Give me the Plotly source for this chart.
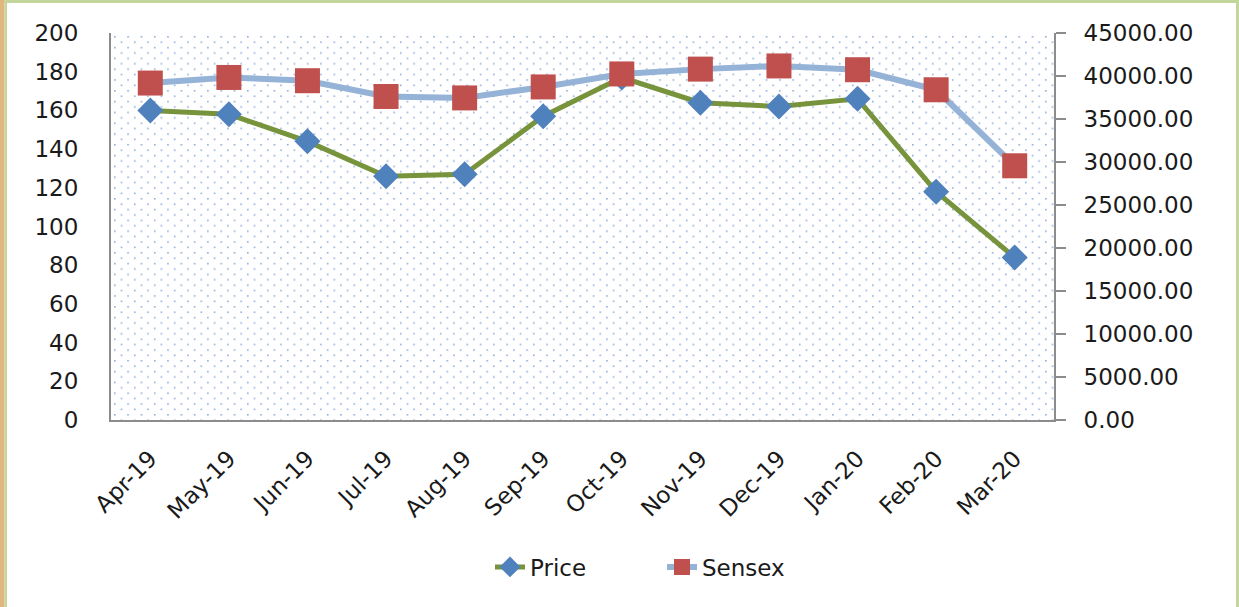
import base64
import plotly.graph_objects as go

months = ["Apr-19", "May-19", "Jun-19", "Jul-19", "Aug-19", "Sep-19",
          "Oct-19", "Nov-19", "Dec-19", "Jan-20", "Feb-20", "Mar-20"]
price = [160, 158, 144, 126, 127, 157, 177, 164, 162, 166, 118, 84]
sensex = [39180, 39830, 39450, 37620, 37450, 38730, 40240, 40800, 41170, 40730, 38400, 29560]

left_ticks = list(range(0, 201, 20))
right_ticks = list(range(0, 45001, 5000))

W, H = 1239, 607
ML, MR, MT, MB = 111, 185, 33, 187
PW, PH = W - ML - MR, H - MT - MB

FONT = "DejaVu Sans"
TXT = "#1a1a1a"
AXC = "#8c8c8c"

# dotted plot-area fill (Excel-like 5% pattern)
svg = (
    f'<svg xmlns="http://www.w3.org/2000/svg" width="{PW}" height="{PH}">'
    '<defs><pattern id="p" x="3" y="3" width="13.3" height="10.8" patternUnits="userSpaceOnUse">'
    '<rect x="0" y="0" width="1.6" height="1.6" fill="#8eaede"/>'
    '<rect x="6.65" y="5.4" width="1.6" height="1.6" fill="#8eaede"/>'
    '</pattern></defs>'
    f'<rect width="{PW}" height="{PH}" fill="url(#p)"/></svg>'
)
src = "data:image/svg+xml;base64," + base64.b64encode(svg.encode()).decode()

fig = go.Figure()
fig.add_trace(go.Scatter(
    x=months, y=price, name="Price", mode="lines+markers",
    line=dict(color="#77933c", width=5),
    marker=dict(symbol="diamond", size=20, color="#4f81bd"),
    yaxis="y",
))
fig.add_trace(go.Scatter(
    x=months, y=sensex, name="Sensex", mode="lines+markers",
    line=dict(color="#95b3d7", width=6),
    marker=dict(symbol="square", size=25, color="#c0504d"),
    yaxis="y2",
))

def px_x(p):
    return (p - ML) / PW

def px_y(p):
    return (H - MB - p) / PH

shapes = [
    # outer frame strips
    dict(type="rect", xref="paper", yref="paper", x0=px_x(0), x1=px_x(4.5),
         y0=px_y(H), y1=px_y(0), fillcolor="#e4b67f", line=dict(width=0), layer="above"),
    dict(type="rect", xref="paper", yref="paper", x0=px_x(4.5), x1=px_x(7),
         y0=px_y(H), y1=px_y(0), fillcolor="#c3d69b", line=dict(width=0), layer="above"),
    dict(type="rect", xref="paper", yref="paper", x0=px_x(4.5), x1=px_x(W),
         y0=px_y(3), y1=px_y(0), fillcolor="#c3d69b", line=dict(width=0), layer="above"),
    dict(type="rect", xref="paper", yref="paper", x0=px_x(W - 3), x1=px_x(W),
         y0=px_y(H), y1=px_y(0), fillcolor="#c3d69b", line=dict(width=0), layer="above"),
]

fig.update_layout(
    width=W, height=H,
    margin=dict(l=ML, r=MR, t=MT, b=MB),
    paper_bgcolor="white", plot_bgcolor="white",
    font=dict(family=FONT, size=23, color=TXT),
    showlegend=True,
    legend=dict(orientation="h", x=px_x(490), xanchor="left", y=px_y(567), yanchor="middle",
                font=dict(family=FONT, size=23, color=TXT), entrywidth=127,
                bgcolor="rgba(0,0,0,0)"),
    images=[dict(source=src, xref="paper", yref="paper", x=0, y=1, sizex=1, sizey=1,
                 xanchor="left", yanchor="top", sizing="stretch", layer="below")],
    shapes=shapes,
    xaxis=dict(
        type="category", range=[-0.5, 11.5], tickangle=-45,
        showline=True, linecolor=AXC, linewidth=2, showgrid=False, zeroline=False,
        ticks="", ticklabelstandoff=14,
        tickfont=dict(family=FONT, size=23, color=TXT),
    ),
    yaxis=dict(
        range=[0, 200], tickvals=left_ticks, showline=True, linecolor=AXC, linewidth=2,
        showgrid=False, zeroline=False, ticks="", ticklabelstandoff=26,
        tickfont=dict(family=FONT, size=23, color=TXT),
    ),
    yaxis2=dict(
        range=[0, 45000], tickvals=right_ticks, tickformat=".2f", overlaying="y", side="right",
        showline=True, linecolor=AXC, linewidth=2, showgrid=False, zeroline=False,
        ticks="outside", ticklen=10, tickcolor=AXC, tickwidth=2, ticklabelstandoff=13,
        tickfont=dict(family=FONT, size=23, color=TXT),
    ),
)

fig.write_html("out.html", config={"displayModeBar": False},
               post_script="document.body.style.margin='0';document.body.style.overflow='hidden';")
